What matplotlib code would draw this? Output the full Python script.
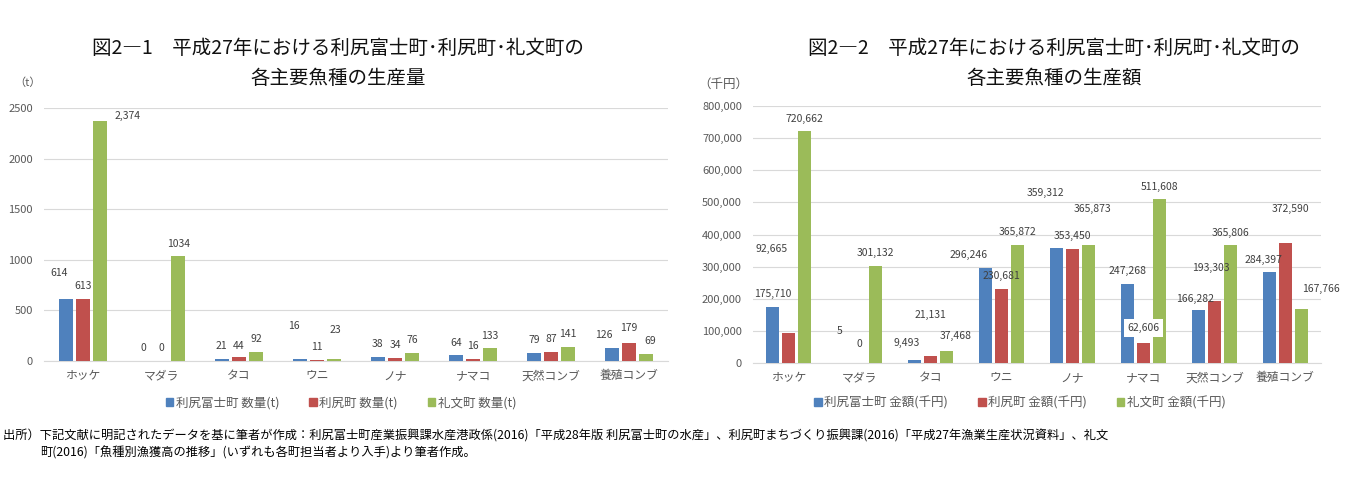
import numpy as np
import matplotlib
matplotlib.use("Agg")
import matplotlib.pyplot as plt
from matplotlib.patches import Patch

plt.rcParams["font.family"] = ["Noto Sans CJK JP", "DejaVu Sans"]

# --- data -------------------------------------------------------------
species = ["ホッケ", "マダラ", "タコ", "ウニ", "ノナ", "ナマコ", "天然コンブ", "養殖コンブ"]
towns = ["利尻富士町", "利尻町", "礼文町"]

# production volume (t)
qty_rishirifuji = [614, 0, 21, 16, 38, 64, 79, 126]
qty_rishiri = [613, 0, 44, 11, 34, 16, 87, 179]
qty_rebun = [2374, 1034, 92, 23, 76, 133, 141, 69]

# production value (thousand yen)
val_rishirifuji = [175710, 5, 9493, 296246, 359312, 247268, 166282, 284397]
val_rishiri = [92665, 0, 21131, 230681, 353450, 62606, 193303, 372590]
val_rebun = [720662, 301132, 37468, 365872, 365873, 511608, 365806, 167766]

qty_ticks = [0, 500, 1000, 1500, 2000, 2500]
val_ticks = [0, 100000, 200000, 300000, 400000, 500000, 600000, 700000, 800000]

title1 = ["図2―1　平成27年における利尻富士町･利尻町･礼文町の", "各主要魚種の生産量"]
title2 = ["図2―2　平成27年における利尻富士町･利尻町･礼文町の", "各主要魚種の生産額"]

footnote = [
    "出所）下記文献に明記されたデータを基に筆者が作成：利尻富士町産業振興課水産港政係(2016)「平成28年版 利尻富士町の水産」、"
    "利尻町まちづくり振興課(2016)「平成27年漁業生産状況資料」、礼文",
    "町(2016)「魚種別漁獲高の推移」(いずれも各町担当者より入手)より筆者作成。",
]

# --- styling ----------------------------------------------------------
COLORS = ["#4F81BD", "#C0504D", "#9BBB59"]
GRID = "#D9D9D9"
TICK = "#595959"
LABEL = "#404040"

# data label nudges in pixels (dx, height of label centre above bar top)
qty_offsets = [
    [(-7, 26), (0, 13), (0, 13), (-6, 33), (0, 13), (0, 12), (0, 13), (-8, 13)],
    [(0, 13), (0, 13), (0, 11), (0, 13), (0, 13), (0, 13), (0, 13), (0, 15)],
    [(27, 5), (0, 12), (0, 13), (1, 29), (0, 13), (0, 12), (0, 13), (4, 13)],
]
val_offsets = [
    [(0, 13), (-4, 32), (-8, 17), (-17, 13), (-11, 55), (0, 13), (-4, 11), (-6, 12)],
    [(-17, 84), (0, 19), (0, 41), (0, 13), (0, 13), (0, 15), (-4, 33), (5, 34)],
    [(0, 13), (0, 13), (10, 15), (0, 13), (4, 36), (0, 12), (0, 13), (20, 20)],
]
label_override = {(2, 1): "1034"}  # this label was shown without a comma

W, H = 1363, 493
fig = plt.figure(figsize=(W / 100, H / 100), dpi=100)


def draw_panel(rect, series, offsets, ticks, tick_fmt, overrides=None, boxed=None):
    ax = fig.add_axes(rect)
    x = np.arange(len(species))
    width, step = 0.18, 0.22
    for k, vals in enumerate(series):
        xs = x + (k - 1) * step
        ax.bar(xs, vals, width=width, color=COLORS[k], zorder=3)
        for i, v in enumerate(vals):
            txt = f"{v:,}"
            if overrides and (k, i) in overrides:
                txt = overrides[(k, i)]
            dx, dy = offsets[k][i]
            kw = {}
            if boxed and (k, i) in boxed:
                kw["bbox"] = dict(boxstyle="square,pad=0.35", fc="white", ec="none")
            ax.annotate(txt, (xs[i], v), xytext=(dx, dy), textcoords="offset pixels",
                        ha="center", va="center", fontsize=7.5, color=LABEL, zorder=5, **kw)
    ax.set_xlim(-0.5, len(species) - 0.5)
    ax.set_ylim(ticks[0], ticks[-1])
    ax.set_yticks(ticks)
    ax.set_yticklabels([tick_fmt(t) for t in ticks], fontsize=8, color=TICK)
    ax.set_xticks(x)
    ax.set_xticklabels(species, fontsize=8.5, color=TICK)
    ax.tick_params(length=0)
    ax.tick_params(axis="y", pad=8)
    ax.tick_params(axis="x", pad=6)
    for s in ["left", "right", "top"]:
        ax.spines[s].set_visible(False)
    ax.spines["bottom"].set_color(GRID)
    ax.yaxis.grid(True, color=GRID, linewidth=0.8, zorder=0)
    ax.set_axisbelow(True)
    return ax


ax1 = draw_panel([44 / W, 1 - 361 / H, 624 / W, 253 / H],
                 [qty_rishirifuji, qty_rishiri, qty_rebun], qty_offsets,
                 qty_ticks, lambda t: f"{t}", overrides=label_override)
ax2 = draw_panel([753 / W, 1 - 363 / H, 568 / W, 257 / H],
                 [val_rishirifuji, val_rishiri, val_rebun], val_offsets,
                 val_ticks, lambda t: f"{t:,}", boxed={(1, 5)})

# titles
for cx, lines in [(338 / W, title1), (1054 / W, title2)]:
    fig.text(cx, 1 - 48 / H, lines[0], ha="center", va="center", fontsize=14, color="#111111")
    fig.text(cx, 1 - 79 / H, lines[1], ha="center", va="center", fontsize=14, color="#111111")

# units
fig.text(28 / W, 1 - 83 / H, "（t）", ha="center", va="center", fontsize=8, color=TICK)
fig.text(723 / W, 1 - 84 / H, "（千円）", ha="center", va="center", fontsize=9, color=TICK)

# legends
handles = [Patch(color=c) for c in COLORS]
for cx, suffix in [(341 / W, "数量(t)"), (1020 / W, "金額(千円)")]:
    fig.legend(handles, [f"{t} {suffix}" for t in towns], loc="center",
               bbox_to_anchor=(cx, 1 - 403 / H), ncol=3, frameon=False,
               fontsize=9, labelcolor=TICK, handlelength=0.6, handleheight=0.6,
               handletextpad=0.2, columnspacing=2.4)

# footnote
fig.text(3 / W, 1 - 436 / H, footnote[0], ha="left", va="center", fontsize=8.8, color="black")
fig.text(40 / W, 1 - 453 / H, footnote[1], ha="left", va="center", fontsize=8.8, color="black")

fig.savefig("out.png", dpi=100)
